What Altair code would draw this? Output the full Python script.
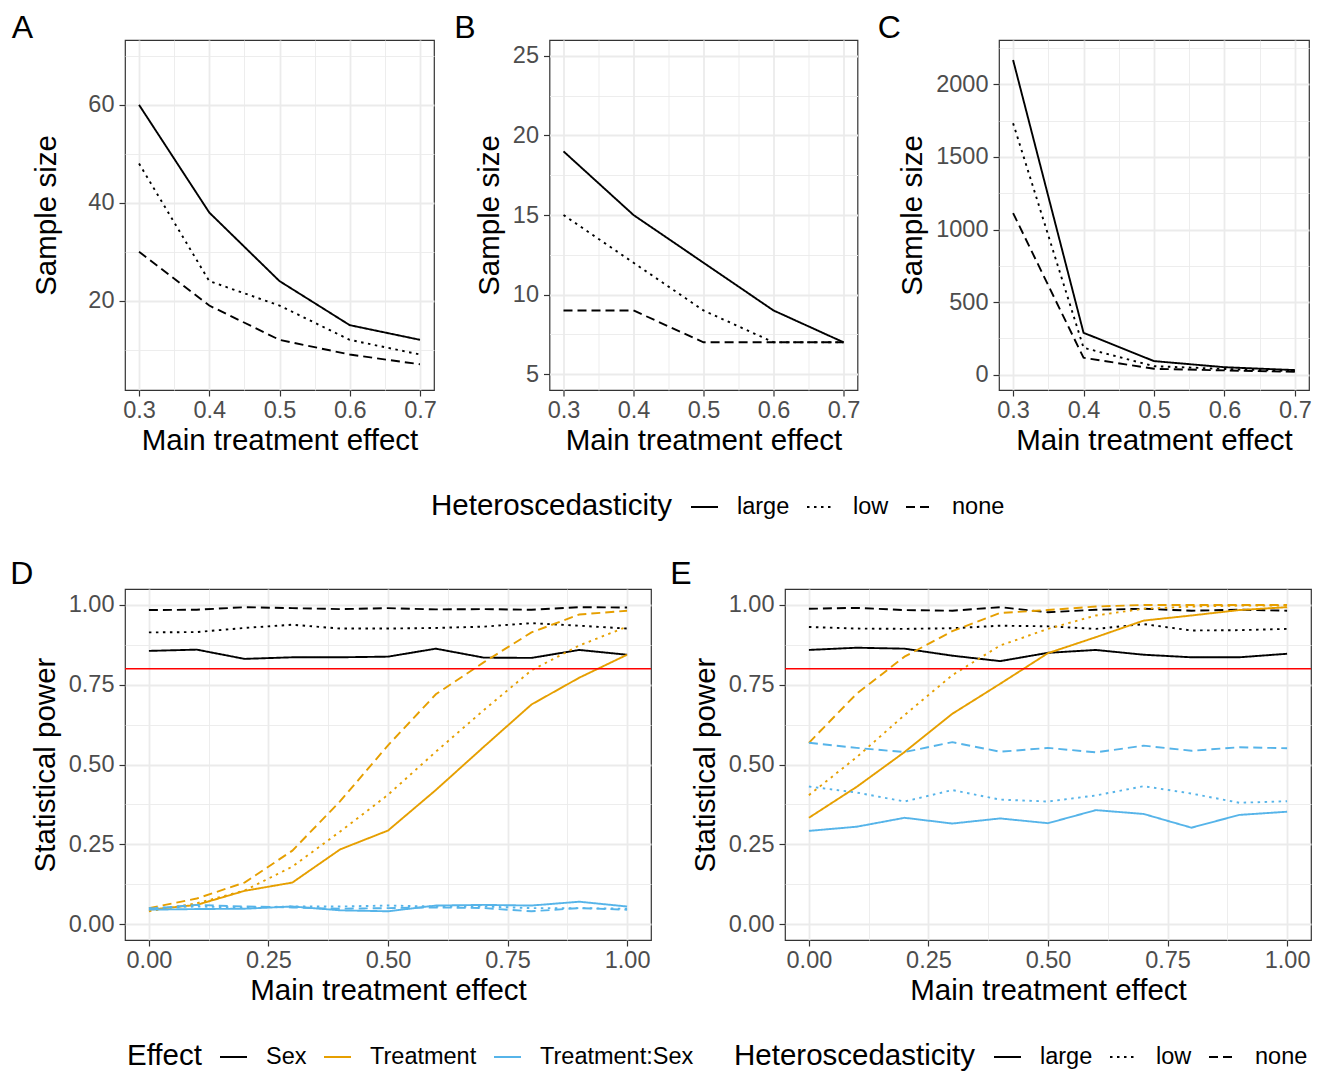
import altair as alt
import pandas as pd

FONT = "Liberation Sans"

# ---------------- data: panels A-C (sample size) ----------------
effect_size = [0.3, 0.4, 0.5, 0.6, 0.7]
het_levels = ["large", "low", "none"]

A_large = [60, 38, 24, 15, 12]
A_low = [48, 24, 19, 12, 9]
A_none = [30, 19, 12, 9, 7]

B_large = [19, 15, 12, 9, 7]
B_low = [15, 12, 9, 7, 7]
B_none = [9, 9, 7, 7, 7]

C_large = [2167, 289, 94, 52, 32]
C_low = [1732, 186, 59, 40, 25]
C_none = [1113, 117, 41, 30, 20]

# ---------------- data: panels D-E (statistical power) ----------------
main_effect = [0.0, 0.1, 0.2, 0.3, 0.4, 0.5, 0.6, 0.7, 0.8, 0.9, 1.0]
effects = ["Sex", "Treatment", "Treatment:Sex"]

D_sex_large = [0.856, 0.860, 0.831, 0.836, 0.836, 0.838, 0.863, 0.835, 0.834, 0.859, 0.844]
D_sex_low = [0.914, 0.915, 0.928, 0.938, 0.926, 0.926, 0.928, 0.932, 0.943, 0.935, 0.926]
D_sex_none = [0.984, 0.985, 0.993, 0.990, 0.987, 0.990, 0.986, 0.987, 0.985, 0.993, 0.992]
D_trt_large = [0.045, 0.060, 0.104, 0.130, 0.234, 0.293, 0.420, 0.555, 0.688, 0.772, 0.844]
D_trt_low = [0.040, 0.065, 0.105, 0.180, 0.290, 0.405, 0.540, 0.670, 0.795, 0.873, 0.932]
D_trt_none = [0.050, 0.080, 0.130, 0.230, 0.385, 0.560, 0.720, 0.820, 0.914, 0.970, 0.982]
D_int_large = [0.045, 0.047, 0.048, 0.055, 0.043, 0.040, 0.058, 0.060, 0.058, 0.070, 0.055]
D_int_low = [0.050, 0.055, 0.052, 0.055, 0.055, 0.058, 0.055, 0.055, 0.050, 0.050, 0.048]
D_int_none = [0.048, 0.060, 0.055, 0.052, 0.048, 0.050, 0.052, 0.050, 0.040, 0.050, 0.045]

E_sex_large = [0.859, 0.866, 0.863, 0.841, 0.824, 0.850, 0.859, 0.844, 0.836, 0.836, 0.847]
E_sex_low = [0.931, 0.926, 0.925, 0.927, 0.935, 0.933, 0.925, 0.940, 0.920, 0.921, 0.925]
E_sex_none = [0.988, 0.991, 0.984, 0.982, 0.993, 0.977, 0.985, 0.988, 0.982, 0.985, 0.982]
E_trt_large = [0.333, 0.430, 0.539, 0.659, 0.753, 0.849, 0.899, 0.951, 0.967, 0.984, 0.993]
E_trt_low = [0.404, 0.523, 0.655, 0.780, 0.873, 0.925, 0.967, 0.988, 0.995, 0.998, 0.998]
E_trt_none = [0.568, 0.722, 0.838, 0.918, 0.975, 0.984, 0.995, 1.000, 1.000, 1.000, 1.000]
E_int_large = [0.292, 0.305, 0.333, 0.315, 0.331, 0.316, 0.357, 0.345, 0.302, 0.342, 0.352]
E_int_low = [0.431, 0.412, 0.384, 0.420, 0.390, 0.384, 0.403, 0.432, 0.409, 0.380, 0.385]
E_int_none = [0.568, 0.552, 0.539, 0.570, 0.540, 0.552, 0.538, 0.559, 0.543, 0.554, 0.551]

power_threshold = 0.8

# tick values (major + minor, as ggplot draws them)
x_size_ticks = [0.3, 0.35, 0.4, 0.45, 0.5, 0.55, 0.6, 0.65, 0.7]
A_y_ticks = [10, 20, 30, 40, 50, 60, 70]
B_y_ticks = [5, 7.5, 10, 12.5, 15, 17.5, 20, 22.5, 25]
C_y_ticks = [0, 250, 500, 750, 1000, 1250, 1500, 1750, 2000, 2250]
power_ticks = [0, 0.125, 0.25, 0.375, 0.5, 0.625, 0.75, 0.875, 1.0]


def size_frame(large, low, none):
    rows = []
    for lev, vals in zip(het_levels, [large, low, none]):
        for x, v in zip(effect_size, vals):
            rows.append({"effect": x, "n": v, "het": lev})
    return pd.DataFrame(rows)


def power_frame(groups):
    rows = []
    for eff, lev, vals in groups:
        for x, v in zip(main_effect, vals):
            rows.append({"effect": x, "power": v, "Effect": eff, "het": lev})
    return pd.DataFrame(rows)


dfA = size_frame(A_large, A_low, A_none)
dfB = size_frame(B_large, B_low, B_none)
dfC = size_frame(C_large, C_low, C_none)
dfD = power_frame([
    ("Sex", "large", D_sex_large), ("Sex", "low", D_sex_low), ("Sex", "none", D_sex_none),
    ("Treatment", "large", D_trt_large), ("Treatment", "low", D_trt_low), ("Treatment", "none", D_trt_none),
    ("Treatment:Sex", "large", D_int_large), ("Treatment:Sex", "low", D_int_low), ("Treatment:Sex", "none", D_int_none),
])
dfE = power_frame([
    ("Sex", "large", E_sex_large), ("Sex", "low", E_sex_low), ("Sex", "none", E_sex_none),
    ("Treatment", "large", E_trt_large), ("Treatment", "low", E_trt_low), ("Treatment", "none", E_trt_none),
    ("Treatment:Sex", "large", E_int_large), ("Treatment:Sex", "low", E_int_low), ("Treatment:Sex", "none", E_int_none),
])

# ---------------- styling helpers ----------------
TITLE_FS = 29.5
LABEL_FS = 23.5
GRID = "#EBEBEB"
BORDER = alt.ViewBackground(stroke="#333333", strokeWidth=1.2)
NO_BORDER = alt.ViewBackground(stroke="transparent", strokeWidth=0)

dash_scale = alt.Scale(domain=het_levels, range=[[1, 0], [2.5, 4.5], [9, 5]])
color_scale = alt.Scale(domain=effects, range=["#000000", "#E69F00", "#56B4E9"])


def axis(title, values, major_test, fmt, orient, title_pad=8):
    return alt.Axis(
        title=title, values=values, format=fmt, orient=orient,
        labelExpr=f"({major_test}) ? datum.label : ''",
        grid=True, gridColor=GRID,
        gridWidth={"condition": {"test": major_test, "value": 1.8}, "value": 0.9},
        tickOpacity={"condition": {"test": major_test, "value": 1}, "value": 0},
        labelFontSize={"condition": {"test": major_test, "value": LABEL_FS}, "value": 0},
        tickSize=6, tickWidth=1.2, tickColor="#333333",
        labelFont=FONT, labelColor="#4D4D4D",
        labelPadding=5 if orient == "left" else 2,
        titleFont=FONT, titleFontSize=TITLE_FS, titleColor="black", titleFontWeight="normal",
        titlePadding=title_pad,
        labelOverlap=False, labelFlush=False, domain=False, minExtent=0,
    )


def legend(title, x, y, black):
    extra = {"symbolStrokeColor": "black"} if black else {}
    return alt.Legend(
        title=title, orient="none", legendX=x, legendY=y, direction="horizontal",
        titleOrient="left", titleFont=FONT, titleFontSize=TITLE_FS, titleFontWeight="normal",
        titleColor="black", titleAnchor="middle", titleBaseline="middle", titlePadding=17,
        titleLimit=600, labelLimit=400,
        labelFont=FONT, labelFontSize=LABEL_FS, labelColor="black",
        symbolType="stroke", symbolSize=729, symbolStrokeWidth=2, symbolOpacity=1,
        labelOffset=18, columnPadding=13, **extra,
    )


def panel_title(letter, offset):
    return alt.TitleParams(text=letter, anchor="start", frame="bounds", font=FONT, fontSize=32,
                           fontWeight="normal", color="black", dx=-20, offset=offset)


X_SIZE_MAJOR = "abs(datum.value*10 - round(datum.value*10)) < 0.001"
POWER_MAJOR = "abs(datum.value*4 - round(datum.value*4)) < 0.001"


def size_panel(df, letter, ydom, yticks, ymajor, w, ytitle_pad):
    return alt.Chart(df, title=panel_title(letter, -5)).mark_line(strokeWidth=1.9, color="black").encode(
        x=alt.X("effect:Q", scale=alt.Scale(domain=[0.28, 0.72], nice=False, zero=False),
                axis=axis("Main treatment effect", x_size_ticks, X_SIZE_MAJOR, "", "bottom", 5)),
        y=alt.Y("n:Q", scale=alt.Scale(domain=ydom, nice=False, zero=False),
                axis=axis("Sample size", yticks, ymajor, "d", "left", ytitle_pad)),
        strokeDash=alt.StrokeDash("het:N", scale=dash_scale, legend=None),
    ).properties(width=w, height=350, view=BORDER)


chartA = size_panel(dfA, "A", [1.75, 73.25], A_y_ticks, "datum.value % 20 === 0", 309, 26)
chartB = size_panel(dfB, "B", [4, 26], B_y_ticks, "datum.value % 5 === 0", 308, 8)
chartC = size_panel(dfC, "C", [-105, 2305], C_y_ticks, "datum.value % 500 === 0", 310, 8)


def power_panel(df, letter):
    lines = alt.Chart(df).mark_line(strokeWidth=1.9).encode(
        x=alt.X("effect:Q", scale=alt.Scale(domain=[-0.05, 1.05], nice=False, zero=False),
                axis=axis("Main treatment effect", power_ticks, POWER_MAJOR, ".2f", "bottom", 5)),
        y=alt.Y("power:Q", scale=alt.Scale(domain=[-0.05, 1.05], nice=False, zero=False),
                axis=axis("Statistical power", power_ticks, POWER_MAJOR, ".2f", "left", 8)),
        color=alt.Color("Effect:N", scale=color_scale, legend=None),
        strokeDash=alt.StrokeDash("het:N", scale=dash_scale, legend=None),
    )
    hline = alt.Chart(pd.DataFrame({"p": [power_threshold]})).mark_rule(
        color="#FF0000", strokeWidth=1.6).encode(y="p:Q")
    return alt.layer(lines, hline, title=panel_title(letter, -2)).properties(
        width=526, height=351, view=BORDER)


chartD = power_panel(dfD, "D")
chartE = power_panel(dfE, "E")

# ---------------- legend rows (library legends only) ----------------
top_legend_row = alt.Chart(pd.DataFrame({"het": het_levels})).mark_line(opacity=0).encode(
    x=alt.value(0), y=alt.value(0),
    strokeDash=alt.StrokeDash("het:N", scale=dash_scale,
                              legend=legend("Heteroscedasticity", 306, 0, True)),
).properties(width=10, height=1, view=NO_BORDER)

bottom_legend_row = alt.Chart(pd.DataFrame({"Effect": effects, "het": het_levels})).mark_line(opacity=0).encode(
    x=alt.value(0), y=alt.value(0),
    color=alt.Color("Effect:N", scale=color_scale, legend=legend("Effect", 2, 0, False)),
    strokeDash=alt.StrokeDash("het:N", scale=dash_scale,
                              legend=legend("Heteroscedasticity", 609, 0, True)),
).properties(width=10, height=1, view=NO_BORDER)

top = alt.hconcat(chartA, chartB, chartC, spacing=16.5)
bottom = alt.hconcat(chartD, chartE, spacing=16)

chart = alt.vconcat(top, top_legend_row, bottom, bottom_legend_row, spacing=36.5).resolve_scale(
    strokeDash="independent", color="independent"
).properties(
    padding={"left": 1, "top": 3, "right": 0, "bottom": 0}
).configure_view(
    stroke="#333333", strokeWidth=1.2
).configure(background="white")

chart.save("out.html", embed_options={"renderer": "svg", "actions": False})
